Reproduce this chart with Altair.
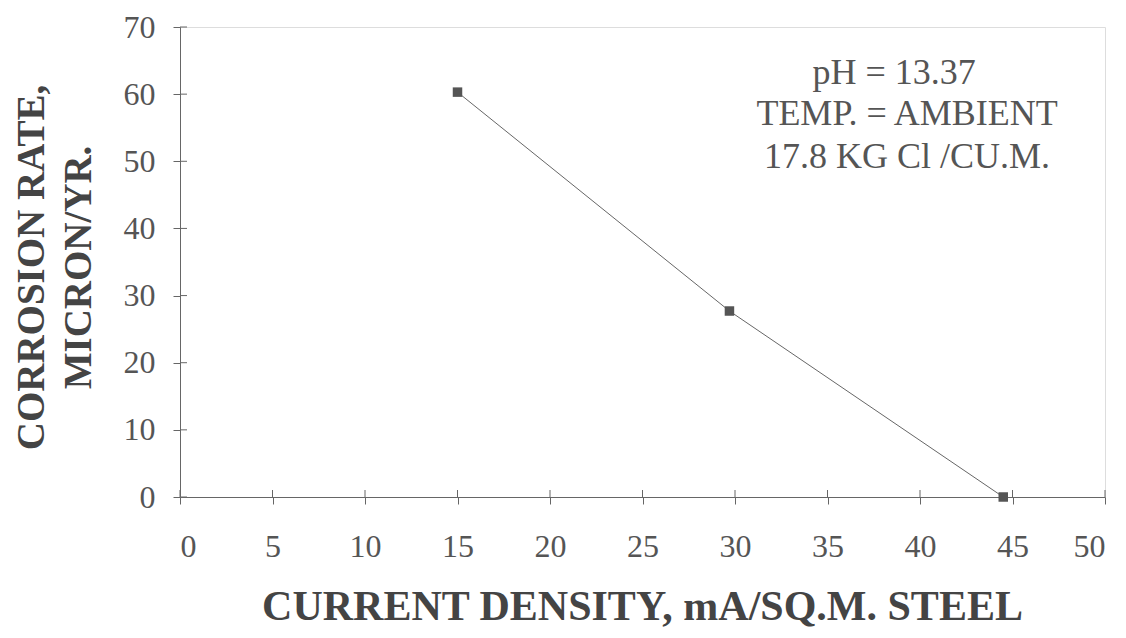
import altair as alt
import pandas as pd

# data
current_density = [15.0, 29.7, 44.5]
corrosion_rate = [60.3, 27.7, 0.0]

x_ticks = [0, 5, 10, 15, 20, 25, 30, 35, 40, 45, 50]
y_ticks = [0, 10, 20, 30, 40, 50, 60, 70]

note_lines = ["pH = 13.37", "TEMP. = AMBIENT", "17.8 KG Cl /CU.M."]
note_x = [38.6, 39.3, 39.3]
note_y = [63.1, 57.0, 50.7]

df = pd.DataFrame({"x": current_density, "y": corrosion_rate})
notes = pd.DataFrame({"x": note_x, "y": note_y, "t": note_lines})
xt = pd.DataFrame({"v": x_ticks})
yt = pd.DataFrame({"v": y_ticks})

FONT = "Liberation Serif"
W, H = 925, 470

xscale = alt.Scale(domain=[0, 50], nice=False)
yscale = alt.Scale(domain=[0, 70], nice=False)

xaxis = alt.Axis(
    values=x_ticks, title="CURRENT DENSITY, mA/SQ.M. STEEL", grid=False,
    labelFont=FONT, labelFontSize=32, labelColor="#555", labelPadding=27,
    tickSize=7, tickColor="#666", domainColor="#666",
    titleFont=FONT, titleFontSize=42, titleFontWeight="bold", titleColor="#444",
    titleX=462, titleY=89, titleBaseline="top", titleAlign="center",
)
yaxis = alt.Axis(
    values=y_ticks, title=["CORROSION RATE,", "MICRON/YR."], grid=False,
    labelFont=FONT, labelFontSize=32, labelColor="#555", labelPadding=18,
    tickSize=7, tickColor="#666", domainColor="#666",
    titleFont=FONT, titleFontSize=39, titleFontWeight="bold", titleColor="#444",
    titleX=-168, titleY=240, titleBaseline="top", titleAlign="center",
    titleLineHeight=47, titleAngle=-90,
)

line = alt.Chart(df).mark_line(color="#666", strokeWidth=1).encode(
    x=alt.X("x:Q", scale=xscale, axis=xaxis),
    y=alt.Y("y:Q", scale=yscale, axis=yaxis),
)
pts = alt.Chart(df).mark_point(shape="square", filled=True, size=90, color="#555", opacity=1).encode(
    x=alt.X("x:Q", scale=xscale),
    y=alt.Y("y:Q", scale=yscale),
)
xin = alt.Chart(xt).mark_rule(color="#666", strokeWidth=1).encode(
    x=alt.X("v:Q", scale=xscale),
    y=alt.value(H), y2=alt.value(H - 7),
)
yin = alt.Chart(yt).mark_rule(color="#666", strokeWidth=1).encode(
    y=alt.Y("v:Q", scale=yscale),
    x=alt.value(0), x2=alt.value(7),
)
txt = alt.Chart(notes).mark_text(font=FONT, fontSize=36, color="#555", align="center", baseline="middle").encode(
    x=alt.X("x:Q", scale=xscale),
    y=alt.Y("y:Q", scale=yscale),
    text="t:N",
)

chart = alt.layer(xin, yin, line, pts, txt).properties(
    width=W, height=H,
    autosize=alt.AutoSizeParams(type="none"),
    padding={"left": 172, "top": 19, "right": 12, "bottom": 140},
).configure_view(stroke="#888", strokeWidth=1).configure(background="white")

chart.save("out.html", embed_options={"renderer": "svg", "actions": False})
